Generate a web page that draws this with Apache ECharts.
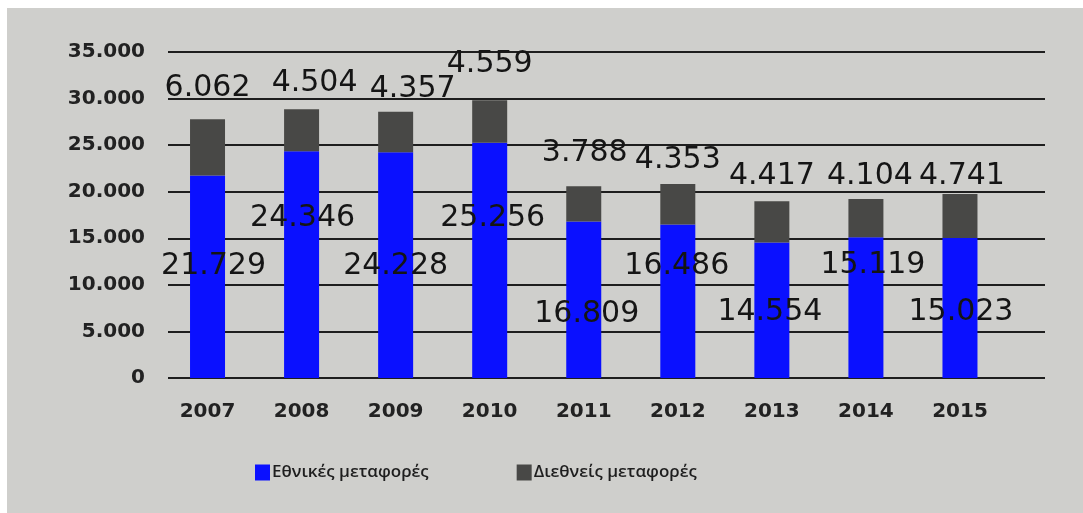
<!DOCTYPE html>
<html>
<head>
<meta charset="utf-8">
<script src="https://cdn.jsdelivr.net/npm/echarts@6/dist/echarts.min.js"></script>
<style>
html,body{margin:0;padding:0;background:#fff;}
#chart{width:1083px;height:513px;}
</style>
</head>
<body>
<div id="chart"></div>
<script>
// ---- data ----
const categories = ['2007','2008','2009','2010','2011','2012','2013','2014','2015'];
const domestic = [21729, 24346, 24228, 25256, 16809, 16486, 14554, 15119, 15023];
const international = [6062, 4504, 4357, 4559, 3788, 4353, 4417, 4104, 4741];
const seriesNames = ['Εθνικές μεταφορές', 'Διεθνείς μεταφορές'];
const yMin = 0, yMax = 35000, yStep = 5000;

// ---- label layout (pixel offsets, styling only) ----
const domLabelShift = [[6,-11],[1,-46],[0,1],[3,-42],[3,14],[-1,-35],[-2,2],[7,-42],[1,4]];
const intLabelShift = [[0,-16],[13,-11],[17,-8],[0,-21],[1,-18],[0,-9],[0,-10],[4,-8],[2,-3]];

const fmt = v => String(v).replace(/\B(?=(\d{3})+(?!\d))/g, '.');
const labelFont = {fontFamily:'DejaVu Sans', fontSize:30, color:'#151515'};

const chart = echarts.init(document.getElementById('chart'), null, {renderer:'canvas'});
const gridTop = 52, gridBottom = 513 - 378;
chart.setOption({
  backgroundColor: '#ffffff',
  animation: false,
  graphic: [{type:'rect', z:-100, shape:{x:7,y:8,width:1076,height:505}, style:{fill:'#cfcfcc'}, silent:true}],
  grid: [
    {left:160.5, right:1083-1007, top:gridTop, bottom:gridBottom, containLabel:false},
    {left:168, right:1083-1045, top:gridTop, bottom:gridBottom, containLabel:false}
  ],
  xAxis: [
    {type:'category', gridIndex:0, data:categories,
     axisLine:{show:false}, axisTick:{show:false},
     axisLabel:{margin:24, fontFamily:'DejaVu Sans', fontWeight:'bold', fontSize:20, color:'#222'}},
    {type:'value', gridIndex:1, min:0, max:1, show:false}
  ],
  yAxis: [
    {type:'value', gridIndex:0, min:yMin, max:yMax, interval:yStep, show:false, splitLine:{show:false}},
    {type:'value', gridIndex:1, min:yMin, max:yMax, interval:yStep,
     axisLine:{show:false}, axisTick:{show:false},
     splitLine:{show:true, lineStyle:{color:'#1e1e1e', width:2}},
     axisLabel:{margin:23, formatter:fmt, fontFamily:'DejaVu Sans', fontWeight:'bold', fontSize:20, color:'#222'}}
  ],
  legend: {
    bottom: 27, left: 250,
    itemWidth: 15, itemHeight: 16, itemGap: 88,
    icon: 'rect',
    textStyle: {fontFamily:'Open Sans', fontSize:17, fontWeight:600, color:'#1e1e1e', padding:[0,0,0,-3]},
    data: seriesNames
  },
  series: [
    {name:seriesNames[0], type:'bar', stack:'t', xAxisIndex:0, yAxisIndex:0, barWidth:35,
     itemStyle:{color:'#0a10ff'},
     data: domestic.map((v,i)=>({value:v, label:{offset:domLabelShift[i]}})),
     label:{show:true, position:'inside', formatter:p=>fmt(p.value), ...labelFont}},
    {name:seriesNames[1], type:'bar', stack:'t', xAxisIndex:0, yAxisIndex:0, barWidth:35,
     itemStyle:{color:'#484846'},
     data: international.map((v,i)=>({value:v, label:{offset:intLabelShift[i]}})),
     label:{show:true, position:'top', distance:0, lineHeight:30, formatter:p=>fmt(p.value), ...labelFont}}
  ]
});
</script>
</body>
</html>
